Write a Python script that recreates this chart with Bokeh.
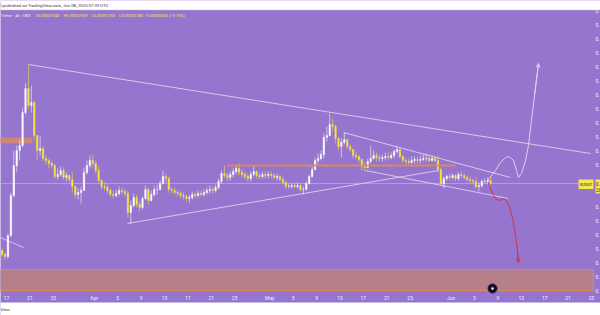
import pandas as pd
from bokeh.plotting import figure
from bokeh.models import Range1d, Arrow, OpenHead, ColumnDataSource
from bokeh.core.properties import value
from bokeh.embed import file_html
from bokeh.resources import INLINE

# ---------------- data (price in units of 1e-8 USDT) ----------------
REF_DATE = "2025-03-17"          # x = days since this date
CANDLE_START = "2025-03-16 00:00"  # 12h candles
first_open = 6613
closes = [
    6573, 6553, 6763, 7163, 7463, 7613, 7663, 7993, 8233, 8063,
    8093, 7763, 7613, 7633, 7533, 7513, 7483, 7463, 7353, 7373,
    7413, 7343, 7363, 7323, 7253, 7173, 7193, 7213, 7393, 7463,
    7513, 7483, 7413, 7313, 7253, 7243, 7213, 7173, 7163, 7183,
    7213, 7203, 7183, 6993, 7063, 7143, 7073, 7043, 7133, 7223,
    7113, 7173, 7223, 7223, 7283, 7353, 7333, 7223, 7213, 7193,
    7183, 7163, 7153, 7133, 7143, 7173, 7163, 7183, 7173, 7193,
    7213, 7223, 7213, 7243, 7303, 7383, 7363, 7343, 7373, 7403,
    7433, 7393, 7373, 7353, 7333, 7373, 7403, 7363, 7353, 7373,
    7363, 7373, 7363, 7343, 7353, 7323, 7293, 7253, 7253, 7263,
    7253, 7263, 7223, 7223, 7283, 7353, 7423, 7513, 7533, 7573,
    7743, 7763, 7873, 7853, 7733, 7653, 7693, 7723, 7653, 7623,
    7563, 7553, 7523, 7453, 7443, 7503, 7533, 7563, 7543, 7533,
    7543, 7553, 7543, 7563, 7603, 7623, 7553, 7513, 7503, 7493,
    7513, 7523, 7513, 7523, 7533, 7533, 7513, 7533, 7513, 7423,
    7283, 7333, 7353, 7343, 7363, 7333, 7373, 7363, 7343, 7323,
    7313, 7303, 7253, 7263, 7303, 7303, 7313, 7283,
]
highs = [
    6633, 6593, 6783, 7193, 7613, 7663, 7713, 8043, 8283, 8473,
    8263, 8113, 7763, 7763, 7653, 7563, 7533, 7513, 7483, 7433,
    7453, 7443, 7393, 7373, 7403, 7263, 7233, 7253, 7443, 7513,
    7563, 7573, 7513, 7453, 7323, 7293, 7273, 7233, 7213, 7223,
    7253, 7243, 7233, 7213, 7113, 7183, 7173, 7103, 7153, 7263,
    7243, 7213, 7263, 7273, 7313, 7413, 7383, 7353, 7253, 7243,
    7223, 7203, 7193, 7173, 7173, 7203, 7203, 7213, 7213, 7223,
    7243, 7263, 7253, 7273, 7333, 7413, 7463, 7393, 7403, 7433,
    7463, 7483, 7423, 7403, 7383, 7403, 7463, 7413, 7393, 7403,
    7403, 7403, 7403, 7383, 7383, 7373, 7353, 7313, 7283, 7283,
    7283, 7293, 7273, 7253, 7303, 7373, 7453, 7543, 7583, 7613,
    7783, 7853, 7983, 7933, 7873, 7743, 7733, 7793, 7733, 7673,
    7633, 7603, 7573, 7533, 7493, 7533, 7663, 7613, 7593, 7573,
    7573, 7593, 7593, 7593, 7623, 7653, 7633, 7573, 7543, 7533,
    7553, 7553, 7553, 7563, 7573, 7583, 7573, 7563, 7563, 7563,
    7443, 7353, 7373, 7383, 7383, 7373, 7393, 7403, 7383, 7363,
    7353, 7333, 7343, 7293, 7323, 7333, 7343, 7343,
]
lows = [
    6553, 6523, 6533, 6743, 7143, 7393, 7513, 7643, 7973, 8033,
    7993, 7713, 7513, 7563, 7503, 7473, 7433, 7433, 7333, 7323,
    7353, 7323, 7303, 7293, 7193, 7133, 7123, 7083, 7213, 7373,
    7433, 7443, 7383, 7293, 7223, 7213, 7183, 7153, 7133, 7143,
    7163, 7173, 7153, 6943, 6883, 7043, 7043, 7003, 7023, 7123,
    7073, 7103, 7153, 7173, 7213, 7273, 7293, 7193, 7183, 7173,
    7153, 7133, 7123, 7103, 7093, 7123, 7133, 7143, 7153, 7153,
    7173, 7183, 7183, 7193, 7223, 7283, 7333, 7303, 7313, 7343,
    7373, 7363, 7343, 7323, 7303, 7303, 7353, 7333, 7323, 7333,
    7333, 7333, 7333, 7323, 7313, 7303, 7273, 7233, 7233, 7233,
    7233, 7233, 7203, 7173, 7213, 7273, 7343, 7413, 7483, 7513,
    7533, 7703, 7753, 7803, 7683, 7613, 7543, 7673, 7623, 7593,
    7533, 7523, 7493, 7413, 7403, 7433, 7483, 7523, 7503, 7503,
    7503, 7513, 7523, 7523, 7533, 7583, 7533, 7493, 7473, 7473,
    7483, 7483, 7483, 7483, 7503, 7503, 7493, 7503, 7493, 7393,
    7263, 7233, 7313, 7323, 7323, 7303, 7313, 7333, 7323, 7303,
    7283, 7273, 7233, 7203, 7243, 7283, 7273, 7263,
]
last_price = 7283

x_tick_dates = ["2025-03-17", "2025-03-21", "2025-03-25", "2025-04-01", "2025-04-05",
                "2025-04-09", "2025-04-13", "2025-04-17", "2025-04-21", "2025-04-25",
                "2025-05-01", "2025-05-05", "2025-05-09", "2025-05-13", "2025-05-17",
                "2025-05-21", "2025-05-25", "2025-06-01", "2025-06-05", "2025-06-09",
                "2025-06-13", "2025-06-17", "2025-06-21", "2025-06-25"]
x_tick_labels = ["17", "21", "25", "Apr", "5", "9", "13", "17", "21", "25",
                 "May", "5", "9", "13", "17", "21", "25", "Jun", "5", "9",
                 "13", "17", "21", "25"]
y_tick_values = [9013, 8873, 8733, 8593, 8453, 8313, 8173, 8033, 7893, 7753,
                 7613, 7473, 7053, 6913, 6773, 6633, 6493, 6353, 6213]
y_tick_labels = ["0."] * len(y_tick_values)

# drawings (x in days since REF_DATE, y in price)
trend_top_d, trend_top_p = [3.76, 99.83], [8473, 7583]
trend_rise_d, trend_rise_p = [20.68, 73.85], [6883, 7413]
wedge_up_d, wedge_up_p = [57.61, 86.15], [7793, 7343]
wedge_lo_d, wedge_lo_p = [61.37, 85.81], [7413, 7133]
left_line_d, left_line_p = [-1.3, 2.91], [6750, 6643]
resist_d, resist_p = [37.78, 76.75], [7463, 7463]
supply_box = dict(left=-1.3, right=4.44, bottom=7683, top=7743)
demand_box = dict(left=-1.3, right=100.34, bottom=6213, top=6423)
bull_d = [82.22, 83.59, 84.44, 85.30, 85.98, 86.67, 87.18, 87.52, 88.03, 88.72, 89.23, 89.74, 90.26, 90.94]
bull_p = [7313, 7413, 7493, 7543, 7553, 7513, 7413, 7343, 7383, 7513, 7663, 7913, 8163, 8483]
bear_d = [82.39, 82.74, 83.25, 83.76, 84.27, 84.96, 85.47, 85.98, 86.50, 87.01, 87.35, 87.52]
bear_p = [7293, 7233, 7163, 7123, 7113, 7133, 7113, 7053, 6933, 6763, 6613, 6493]
event_d, event_p = [83.08], [6233]

legend_head = "Tether · 4h · OKX"
legend_vals = ["O0.00007343", "H0.00007369", "L0.00007255", "C0.00007283", "−0.00000056 (−0.75%)"]
publish_text = "l published on TradingView.com, Jun 08, 2025 07:39 UTC"

# ---------------- layout constants ----------------
W, H = 600, 315
PX_PER_DAY = 5.85
X0_PX = 6.0
PRICE_TOP = 9113.0
PRICE_PER_PX = 10.0


def dx(px):
    return (px - X0_PX) / PX_PER_DAY


def dy(py):
    return PRICE_TOP - py * PRICE_PER_PX


PURPLE = "#9575cd"
LIGHT = "#ddd4ee"
UP = "#ffffff"
DOWN = "#f7e444"
ORANGE = "#d98b5f"
FONT = value("Roboto")

p = figure(width=W, height=H, x_range=Range1d(dx(0), dx(W)), y_range=Range1d(dy(H), dy(0)),
           output_backend="svg", toolbar_location=None, x_axis_location=None, y_axis_location=None,
           min_border=0, background_fill_color=PURPLE, border_fill_color=PURPLE,
           outline_line_color=None)
p.grid.visible = False

# zones
p.quad(left=[demand_box["left"]], right=[demand_box["right"]], bottom=[demand_box["bottom"]],
       top=[demand_box["top"]], fill_color="#b5808a", fill_alpha=1.0, line_color=ORANGE, line_width=1)
p.quad(left=[supply_box["left"]], right=[supply_box["right"]], bottom=[supply_box["bottom"]],
       top=[supply_box["top"]], fill_color="#d98a68", fill_alpha=0.85, line_color=None)

# current price line
p.line([dx(-2), dx(578)], [last_price, last_price], line_color="#bfb0da", line_width=0.8, line_alpha=0.9)

# trend lines
for xs, ys in [(trend_top_d, trend_top_p), (trend_rise_d, trend_rise_p), (wedge_up_d, wedge_up_p),
               (wedge_lo_d, wedge_lo_p), (left_line_d, left_line_p)]:
    p.line(xs, ys, line_color=LIGHT, line_width=1, line_alpha=0.9)

# candles
times = pd.date_range(CANDLE_START, periods=len(closes), freq="12h")
xc = ((times - pd.Timestamp(REF_DATE)) / pd.Timedelta(days=1)).to_numpy() + 0.25
opens = [first_open] + closes[:-1]
tops = [max(o, c) for o, c in zip(opens, closes)]
bots = [min(o, c) for o, c in zip(opens, closes)]
hs = [max(h, t) for h, t in zip(highs, tops)]
ls = [min(l, b) for l, b in zip(lows, bots)]
cols = [UP if c >= o else DOWN for o, c in zip(opens, closes)]
src = ColumnDataSource(dict(x=xc, top=tops, bot=bots, h=hs, l=ls, color=cols))
p.segment(x0="x", y0="h", x1="x", y1="l", source=src, line_color="color", line_width=1, line_alpha=0.55)
p.vbar(x="x", width=0.24, top="top", bottom="bot", source=src, fill_color="color",
       line_color="color", line_width=0.5)

# resistance line
p.line(resist_d, resist_p, line_color=ORANGE, line_width=2, line_alpha=0.95)

# projections
p.line(bull_d, bull_p, line_color="#dccff2", line_width=1)
p.add_layout(Arrow(end=OpenHead(size=4, line_color="#dccff2", line_width=1),
                   x_start=bull_d[-2], y_start=bull_p[-2], x_end=bull_d[-1], y_end=bull_p[-1],
                   line_color="#dccff2", line_width=1))
p.line(bear_d, bear_p, line_color="#cc3550", line_width=1)
p.add_layout(Arrow(end=OpenHead(size=4, line_color="#cc3550", line_width=1),
                   x_start=bear_d[-2], y_start=bear_p[-2], x_end=bear_d[-1], y_end=bear_p[-1],
                   line_color="#cc3550", line_width=1))

# event marker
p.scatter(event_d, event_p, size=9, fill_color="#140b22", line_color="#2a1c40", line_width=1)
p.scatter(event_d, event_p, size=2.5, fill_color="#ffffff", line_color=None)

# x tick labels
tick_x = ((pd.to_datetime(x_tick_dates) - pd.Timestamp(REF_DATE)) / pd.Timedelta(days=1)).to_numpy()
p.text(x=tick_x, y=[dy(297)] * len(tick_x), text=x_tick_labels, text_font=FONT,
       text_font_size="5px", text_color="#f4f0ff", text_align="center", text_baseline="middle")

# y tick labels
p.text(x=[dx(595)] * len(y_tick_values), y=y_tick_values, text=y_tick_labels, text_font=FONT,
       text_font_size="5px", text_color="#f4f0ff", text_align="left", text_baseline="middle")

# last price labels
p.quad(left=[dx(578)], right=[dx(593)], bottom=[dy(188.5)], top=[dy(179)], fill_color="#f5e84a",
       line_color=None)
p.text(x=[dx(585.5)], y=[dy(183.8)], text=["XUSDT"], text_font=FONT, text_font_size="4.2px",
       text_color="#2a2a2a", text_align="center", text_baseline="middle")
p.quad(left=[dx(595)], right=[dx(602)], bottom=[dy(193)], top=[dy(179)], fill_color="#f5e84a",
       line_color=None)
p.text(x=[dx(595.6), dx(595.6)], y=[dy(183), dy(189)], text=["0.", "20"], text_font=FONT,
       text_font_size="4.5px", text_color="#2a2a2a", text_align="left", text_baseline="middle")

# legend
p.text(x=[dx(0.5)], y=[dy(15)], text=[legend_head], text_font=FONT, text_font_size="4px",
       text_color="#f2eefa", text_align="left", text_baseline="middle")
p.text(x=[dx(35), dx(63), dx(91), dx(118.5), dx(144)], y=[dy(15)] * 5, text=legend_vals,
       text_font=FONT, text_font_size="4px", text_color="#f6e45a", text_align="left",
       text_baseline="middle")

# white bands (screenshot frame)
p.quad(left=[dx(-2)], right=[dx(602)], bottom=[dy(9.5)], top=[dy(-2)], fill_color="white", line_color=None)
p.quad(left=[dx(-2)], right=[dx(602)], bottom=[dy(317)], top=[dy(302)], fill_color="white", line_color=None)
p.line([dx(-2), dx(602)], [dy(9.3), dy(9.3)], line_color="#d8d8d8", line_width=0.6)
p.text(x=[dx(0)], y=[dy(5)], text=[publish_text], text_font=FONT, text_font_size="4.3px",
       text_color="#333333", text_align="left", text_baseline="middle")
p.text(x=[dx(0)], y=[dy(308.5)], text=["View"], text_font=FONT, text_font_size="4.3px",
       text_color="#333333", text_align="left", text_baseline="middle")

open("out.html", "w").write(file_html(p, INLINE))
